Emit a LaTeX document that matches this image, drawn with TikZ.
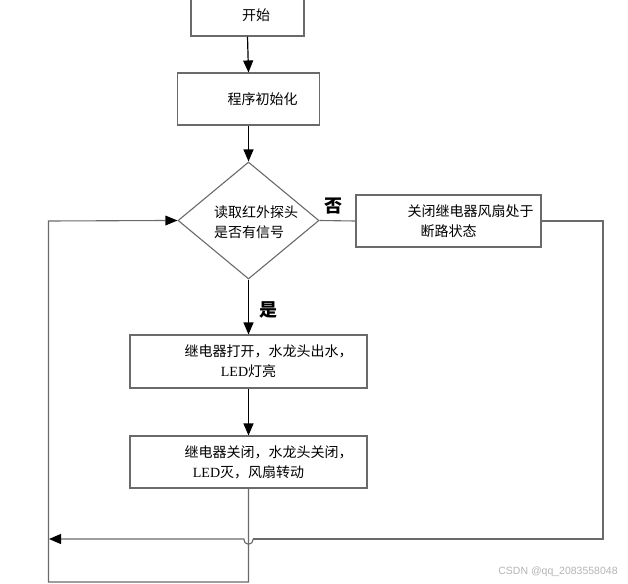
\documentclass[tikz,border=0pt]{standalone}
\usepackage{fontspec}
\setmainfont{Liberation Serif}
\newfontfamily\cjk{Noto Sans CJK SC}
\newfontfamily\lat{Liberation Serif}
\newfontfamily\wmfont{Liberation Sans}
\usetikzlibrary{shapes.geometric,arrows.meta}
\definecolor{lgray}{HTML}{6A6A6A}
\definecolor{wmgray}{HTML}{B4B4B4}
\tikzset{
  procbox/.style={draw=lgray,line width=1.1pt,inner sep=0pt,align=center,
    font=\cjk\fontsize{14}{20}\selectfont},
  decbox/.style={diamond,draw=lgray,line width=1.1pt,inner sep=0pt},
  dectxt/.style={align=left,inner sep=0pt,font=\cjk\fontsize{14}{20}\selectfont},
  flowarrow/.style={draw=black,line width=1.2pt,-{Triangle[length=12pt,width=10pt]}},
  loopline/.style={draw=lgray,line width=1.1pt},
  looparrow/.style={loopline,-{Triangle[length=12pt,width=10pt,fill=black,color=black]}},
  yesno/.style={font=\cjk\bfseries\fontsize{18}{20}\selectfont}
}
\begin{document}
\begin{tikzpicture}[x=1pt,y=-1pt]
\useasboundingbox (0,0) rectangle (628,583);
\clip (0,0) rectangle (628,583);
\node[procbox,minimum width=113pt,minimum height=42pt] (start) at (247.5,15) {\hspace*{17pt}开始};
\node[procbox,minimum width=142pt,minimum height=52pt] (init) at (248.5,99) {\hspace*{28pt}程序初始化};
\node[decbox,minimum width=141pt,minimum height=117pt] (dec) at (248.5,220.5) {};
\node[dectxt] (dectext) at (256,222) {读取红外探头\\是否有信号};
\node[procbox,minimum width=185pt,minimum height=52pt] (off) at (448.5,221) {\hspace*{44pt}关闭继电器风扇处于\\断路状态};
\node[procbox,minimum width=237pt,minimum height=53pt] (on) at (248.5,361.5) {\hspace*{40pt}继电器打开，水龙头出水，\\{\lat LED}灯亮};
\node[procbox,minimum width=237pt,minimum height=52pt] (shut) at (248.5,462) {\hspace*{40pt}继电器关闭，水龙头关闭，\\{\lat LED}灭，风扇转动};
\node[yesno] (no) at (333,206) {否};
\node[yesno] (yes) at (268,310) {是};
\node[font=\wmfont\fontsize{10.5}{12}\selectfont,text=wmgray] (wm) at (558,572) {CSDN @qq\_2083558048};

\coordinate (r1) at (603,221);
\coordinate (r2) at (603,539);
\coordinate (h1) at (253,539);
\coordinate (h2) at (244,539);
\coordinate (l1) at (49,539);
\coordinate (b1) at (248.5,582);
\coordinate (b2) at (48.5,582);
\coordinate (b3) at (48.5,221);

\draw[flowarrow] (start.south) -- (init.north);
\draw[flowarrow] (init.south) -- (dec.north);
\draw[flowarrow] (dec.south) -- (on.north);
\draw[flowarrow] (on.south) -- (shut.north);
\draw[loopline] (dec.east) -- (off.west);
\draw[loopline] (off.east) -- (r1) -- (r2) -- (h1);
\draw[looparrow] (h1) .. controls ([yshift=-7pt]h1) and ([yshift=-7pt]h2) .. (h2) -- (l1);
\draw[loopline] (shut.south) -- (b1) -- (b2) -- (b3) -- ([xshift=-12pt]dec.west);
\fill[black] (dec.west) -- ++(-12,-5) -- ++(0,10) -- cycle;
\end{tikzpicture}
\end{document}
